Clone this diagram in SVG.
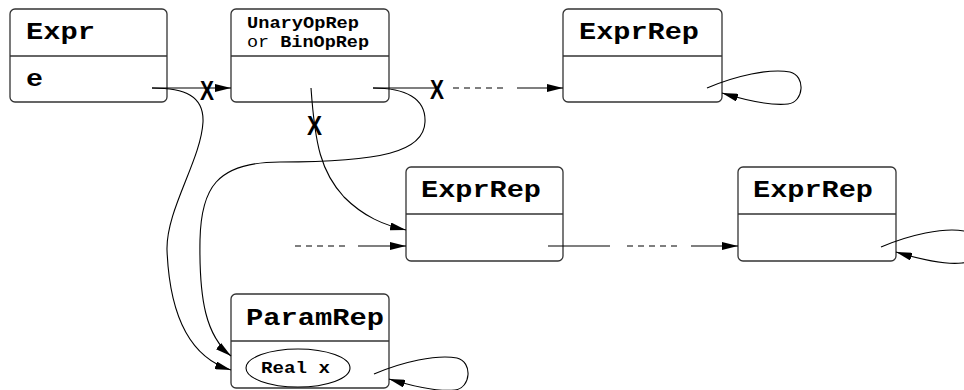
<svg xmlns="http://www.w3.org/2000/svg" width="964" height="390" viewBox="0 0 964 390">
  <style>
    .box { fill: #fff; stroke: #333; stroke-width: 1.3; }
    .div { stroke: #333; stroke-width: 1.3; }
    .title { font-family: "Liberation Mono", "Courier New", monospace; font-weight: bold; font-size: 24px; fill: #000; }
    .small { font-family: "Liberation Mono", "Courier New", monospace; font-size: 16.5px; fill: #000; }
    .b { font-weight: bold; }
    .edge { fill: none; stroke: #000; stroke-width: 1.1; }
    .dash { stroke-dasharray: 6 5; }
    .cut { font-family: "Liberation Sans", Arial, sans-serif; font-weight: bold; font-size: 28px; fill: #000; }
  </style>
  <defs>
    <marker id="arrow" viewBox="0 0 16 8" refX="16" refY="4" markerWidth="16" markerHeight="8" markerUnits="userSpaceOnUse" orient="auto">
      <path d="M0,0 L16,4 L0,8 Z" fill="#000"/>
    </marker>
    <path id="selfloop" class="edge" marker-end="url(#arrow)" d="M0,0 C28,-12 63,-20 83,-16 C99,-12 97,14 81,16 C63,18 38,12 15,5"/>
  </defs>

  <!-- record boxes -->
  <g id="expr">
    <rect class="box" x="10" y="9" width="157" height="93" rx="5"/>
    <line class="div" x1="10" y1="56" x2="167" y2="56"/>
    <text class="title" x="26" y="39" textLength="69" lengthAdjust="spacingAndGlyphs">Expr</text>
    <text class="title" x="26" y="86" textLength="17" lengthAdjust="spacingAndGlyphs">e</text>
  </g>

  <g id="oprep">
    <rect class="box" x="231" y="9" width="158" height="93" rx="5"/>
    <line class="div" x1="231" y1="56" x2="389" y2="56"/>
    <text class="small b" x="247" y="28" textLength="112" lengthAdjust="spacingAndGlyphs">UnaryOpRep</text>
    <text class="small" x="247" y="47" textLength="122" lengthAdjust="spacingAndGlyphs">or <tspan class="b">BinOpRep</tspan></text>
  </g>

  <g id="exprrep-top">
    <rect class="box" x="563" y="9" width="159" height="93" rx="5"/>
    <line class="div" x1="563" y1="56" x2="722" y2="56"/>
    <text class="title" x="579" y="39" textLength="120" lengthAdjust="spacingAndGlyphs">ExprRep</text>
  </g>

  <g id="exprrep-mid">
    <rect class="box" x="406" y="167" width="157" height="94" rx="5"/>
    <line class="div" x1="406" y1="214" x2="563" y2="214"/>
    <text class="title" x="421" y="197" textLength="120" lengthAdjust="spacingAndGlyphs">ExprRep</text>
  </g>

  <g id="exprrep-right">
    <rect class="box" x="738" y="167" width="158" height="94" rx="5"/>
    <line class="div" x1="738" y1="214" x2="896" y2="214"/>
    <text class="title" x="753" y="197" textLength="120" lengthAdjust="spacingAndGlyphs">ExprRep</text>
  </g>

  <g id="paramrep">
    <rect class="box" x="231" y="294" width="158" height="94" rx="5"/>
    <line class="div" x1="231" y1="341" x2="389" y2="341"/>
    <text class="title" x="246" y="325" textLength="138" lengthAdjust="spacingAndGlyphs">ParamRep</text>
    <ellipse cx="298" cy="368" rx="52" ry="19" fill="none" stroke="#000" stroke-width="1.1"/>
    <text class="small b" x="261" y="373" textLength="69" lengthAdjust="spacingAndGlyphs">Real x</text>
  </g>

  <!-- pointers -->
  <g id="connectors">
    <!-- Expr.e to the operator node -->
    <line class="edge" x1="152" y1="88" x2="231" y2="88" marker-end="url(#arrow)"/>
    <!-- Expr.e down to the parameter -->
    <path class="edge" d="M152,88 C185,88 204,96 203,122 C201,160 166,210 167,250 C169,300 182,355 231,370" marker-end="url(#arrow)"/>
    <!-- operator node onward to the operand rep -->
    <line class="edge" x1="373" y1="88" x2="436" y2="88"/>
    <line class="edge dash" x1="453" y1="88" x2="503" y2="88"/>
    <line class="edge" x1="517" y1="88" x2="563" y2="88" marker-end="url(#arrow)"/>
    <!-- operator node down to the parameter -->
    <path class="edge" d="M373,88 C405,88 426,98 425,122 C424,152 380,162 280,162 C215,162 201,190 200,240 C199,300 206,336 231,356" marker-end="url(#arrow)"/>
    <!-- operator node down to the middle rep -->
    <path class="edge" d="M311,88 C315,145 321,172 344,197 C364,217 384,225 406,230" marker-end="url(#arrow)"/>
    <!-- incoming pointer to the middle rep -->
    <line class="edge dash" x1="295" y1="246" x2="345" y2="246"/>
    <line class="edge" x1="358" y1="246" x2="406" y2="246" marker-end="url(#arrow)"/>
    <!-- middle rep onward to the right rep -->
    <line class="edge" x1="548" y1="246" x2="610" y2="246"/>
    <line class="edge dash" x1="627" y1="246" x2="677" y2="246"/>
    <line class="edge" x1="691" y1="246" x2="738" y2="246" marker-end="url(#arrow)"/>
    <!-- self references -->
    <use href="#selfloop" x="707" y="88"/>
    <use href="#selfloop" x="881" y="247"/>
    <use href="#selfloop" x="374" y="374"/>
    <!-- cut marks -->
    <text class="cut" x="200" y="100" textLength="14" lengthAdjust="spacingAndGlyphs">X</text>
    <text class="cut" x="430" y="99" textLength="14" lengthAdjust="spacingAndGlyphs">X</text>
    <text class="cut" x="307" y="135" textLength="15" lengthAdjust="spacingAndGlyphs">X</text>
  </g>
</svg>
